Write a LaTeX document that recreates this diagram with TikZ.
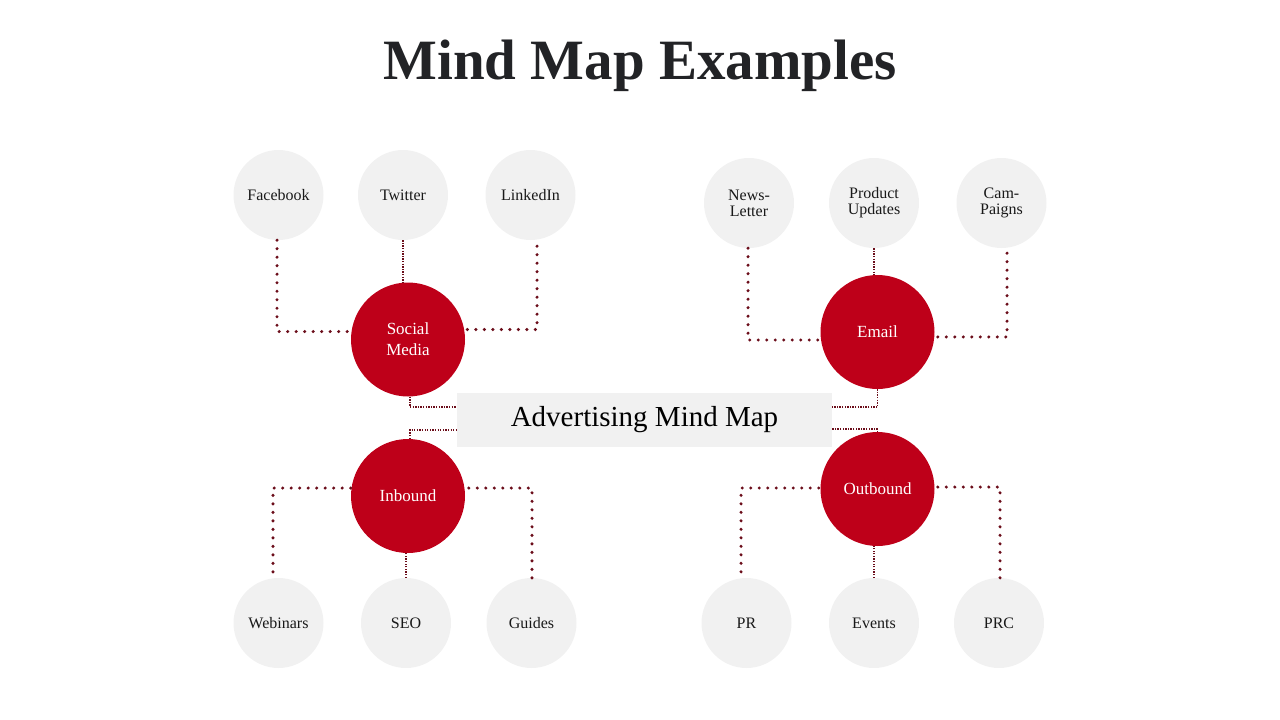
\documentclass[tikz,border=0pt]{standalone}
\usepackage{fontspec}
\setmainfont{Liberation Serif}
\usepackage{xcolor}
\usepackage{tikz}
\usetikzlibrary{
  positioning,
  calc
}
\definecolor{hubred}{HTML}{BE0019}
\definecolor{leafgray}{HTML}{F1F1F1}
\definecolor{dotred}{HTML}{6B0D1A}
\definecolor{ttlcolor}{HTML}{222326}

\begin{document}
\begin{tikzpicture}[
  x=1pt, y=-1pt,
  leaf/.style={circle, fill=leafgray, minimum size=90pt, inner sep=0pt,
               align=center, text=black!90,
               font=\fontsize{16}{16}\selectfont},
  hub/.style={circle, fill=hubred, minimum size=114pt, inner sep=0pt,
              align=center, text=white,
              font=\fontsize{17}{21}\selectfont},
  ctrbox/.style={fill=leafgray, minimum width=375pt, minimum height=54pt,
                 inner sep=0pt, font=\fontsize{29}{30}\selectfont},
  ttl/.style={font=\bfseries\fontsize{57}{60}\selectfont, text=ttlcolor},
  bigdots/.style={draw=dotred, line width=3.4pt, line cap=round,
                  dash pattern=on 0pt off 8.5pt},
  thindots/.style={draw=dotred, line width=1.3pt,
                   dash pattern=on 1.3pt off 1.3pt},
]
  \useasboundingbox (0,0) rectangle (1280,720);

  % Title
  \node[ttl] (title) at (640,66) {Mind Map Examples};

  % Centre box
  \node[ctrbox] (ctr) at (644.5,420) {Advertising Mind Map};

  % Hubs
  \node[hub] (sm) at (408,339.5) {Social\\Media};
  \node[hub] (em) at (877.5,332) {Email};
  \node[hub] (ib) at (408,496) {Inbound};
  \node[hub] (ob) at (877.5,489) {Outbound};

  % Social media leaves
  \node[leaf] (fb) at (278.5,195) {Facebook};
  \node[leaf] (tw) at (403,195) {Twitter};
  \node[leaf] (li) at (530.5,195) {LinkedIn};

  % Email leaves
  \node[leaf] (nl) at (749,203) {News-\\Letter};
  \node[leaf] (pu) at (874,203) {Product\\Updates};
  \node[leaf] (cp) at (1001.5,203) {Cam-\\Paigns};

  % Inbound leaves
  \node[leaf] (wb) at (278.5,623) {Webinars};
  \node[leaf] (seo) at (406,623) {SEO};
  \node[leaf] (gd) at (531.5,623) {Guides};

  % Outbound leaves
  \node[leaf] (pr) at (746.5,623) {PR};
  \node[leaf] (ev) at (874,623) {Events};
  \node[leaf] (prc) at (999,623) {PRC};

  % Leaf connectors
  \draw[bigdots] ($(fb.south)+(-1.5,0)$) |- (sm.172);
  \draw[bigdots] ($(li.south)+(6.5,6)$) |- (sm.10);
  \draw[thindots] (tw.south) -- (tw.south |- sm.north);

  \draw[bigdots] ($(nl.south)+(-1,0)$) |- (em.188);
  \draw[bigdots] ($(cp.south)+(5.5,5)$) |- (em.355);
  \draw[thindots] (pu.south) -- (pu.south |- em.north);

  \draw[bigdots] ($(wb.north)+(-5.5,-6)$) |- (ib.172);
  \draw[bigdots] ($(gd.north)+(0.5,0)$) |- (ib.8);
  \draw[thindots] (seo.north) -- (seo.north |- ib.south);

  \draw[bigdots] ($(pr.north)+(-5.5,-6)$) |- (ob.179);
  \draw[bigdots] ($(prc.north)+(1,0)$) |- (ob.2);
  \draw[thindots] (ev.north) -- (ev.north |- ob.south);

  % Hub to centre connectors
  \draw[thindots] (sm.-88) |- ($(ctr.west)+(0,-13)$);
  \draw[thindots] (ib.88) |- ($(ctr.west)+(0,10)$);
  \draw[thindots] (em.-90) |- ($(ctr.east)+(0,-13)$);
  \draw[thindots] (ob.90) |- ($(ctr.east)+(0,9)$);

\end{tikzpicture}
\end{document}
